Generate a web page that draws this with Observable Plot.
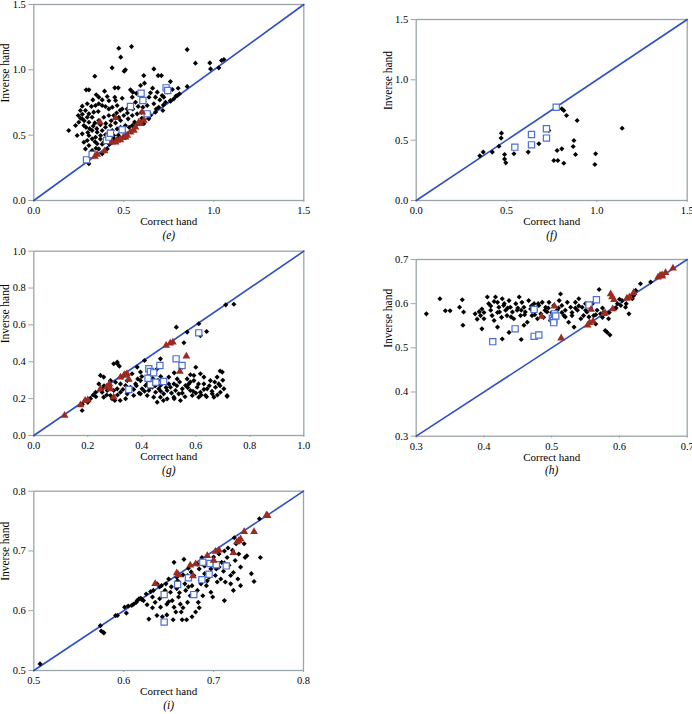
<!DOCTYPE html>
<html><head><meta charset="utf-8">
<script src="https://cdn.jsdelivr.net/npm/d3@7"></script>
<script src="https://cdn.jsdelivr.net/npm/@observablehq/plot@0.6"></script>
<style>
html,body{margin:0;padding:0;overflow:hidden;background:#fff}
#wrap{position:relative;width:692px;height:714px}
#wrap svg{position:absolute;left:0;top:0;max-width:none}
#wrap svg, #wrap svg text{font-family:"Liberation Serif","Times New Roman",serif !important}
</style></head><body><div id="wrap"></div>
<script>
// ---------- panel (e) ----------
const eTicks=[0,0.5,1.0,1.5];
const eDiamonds=[[0.472,1.165],[0.543,1.178],[0.483,1.097],[0.852,1.155],[0.898,1.051],[0.978,1.053],[1.043,1.071],[1.056,1.079],[1.028,1.015],[0.982,1.007],[0.435,1.015],[0.509,1.0],[0.502,0.99],[0.339,0.951],[0.667,1.007],[0.611,0.956],[0.691,0.956],[0.709,0.956],[0.759,0.910],[0.802,0.859],[0.852,0.872],[0.615,0.898],[0.593,0.880],[0.45,0.862],[0.469,0.862],[0.306,0.847],[0.291,0.847],[0.393,0.837],[0.347,0.809],[0.361,0.791],[0.328,0.770],[0.408,0.796],[0.417,0.763],[0.491,0.783],[0.537,0.847],[0.55,0.829],[0.547,0.791],[0.565,0.752],[0.648,0.824],[0.676,0.791],[0.713,0.803],[0.686,0.829],[0.722,0.791],[0.759,0.765],[0.778,0.778],[0.797,0.803],[0.809,0.816],[0.667,0.740],[0.694,0.714],[0.717,0.689],[0.732,0.752],[0.648,0.650],[0.676,0.676],[0.63,0.727],[0.606,0.714],[0.598,0.676],[0.574,0.663],[0.547,0.650],[0.519,0.701],[0.491,0.701],[0.463,0.727],[0.454,0.765],[0.436,0.714],[0.417,0.701],[0.398,0.719],[0.38,0.727],[0.361,0.740],[0.343,0.727],[0.297,0.740],[0.269,0.722],[0.259,0.689],[0.287,0.689],[0.306,0.663],[0.333,0.676],[0.358,0.681],[0.324,0.637],[0.297,0.637],[0.269,0.625],[0.25,0.599],[0.247,0.650],[0.278,0.574],[0.306,0.599],[0.339,0.594],[0.361,0.612],[0.389,0.637],[0.417,0.650],[0.444,0.650],[0.472,0.637],[0.5,0.650],[0.524,0.625],[0.482,0.612],[0.454,0.594],[0.426,0.574],[0.398,0.561],[0.38,0.536],[0.352,0.523],[0.324,0.536],[0.306,0.497],[0.297,0.459],[0.324,0.472],[0.343,0.484],[0.371,0.497],[0.398,0.503],[0.417,0.523],[0.436,0.536],[0.463,0.548],[0.482,0.561],[0.509,0.574],[0.444,0.497],[0.463,0.472],[0.426,0.459],[0.389,0.446],[0.352,0.434],[0.306,0.421],[0.287,0.395],[0.324,0.383],[0.361,0.395],[0.194,0.536],[0.232,0.574],[0.241,0.497],[0.269,0.510],[0.278,0.446],[0.408,0.395],[0.38,0.357],[0.306,0.281],[0.547,0.574],[0.565,0.587],[0.583,0.594],[0.611,0.587],[0.639,0.625],[0.79,0.80],[0.76,0.76],[0.72,0.73],[0.68,0.70],[0.64,0.67],[0.60,0.63],[0.56,0.60],[0.53,0.56],[0.50,0.53],[0.47,0.50],[0.44,0.48],[0.41,0.45],[0.38,0.43],[0.345,0.40],[0.32,0.36],[0.27,0.66],[0.26,0.63],[0.29,0.56],[0.31,0.55],[0.33,0.57],[0.35,0.55],[0.37,0.58],[0.40,0.59],[0.43,0.61],[0.46,0.67],[0.48,0.69],[0.52,0.67],[0.55,0.70],[0.58,0.72],[0.61,0.77],[0.64,0.79],[0.70,0.77],[0.74,0.83],[0.77,0.85],[0.66,0.86],[0.57,0.82],[0.45,0.79],[0.38,0.77],[0.32,0.72],[0.28,0.61],[0.30,0.52],[0.34,0.45],[0.37,0.47],[0.42,0.43],[0.45,0.46]];
const eSquares=[[0.293,0.311],[0.324,0.352],[0.404,0.459],[0.417,0.485],[0.426,0.515],[0.491,0.541],[0.537,0.719],[0.596,0.821],[0.606,0.765],[0.630,0.663],[0.735,0.862],[0.744,0.842]];
const eTriangles=[[0.367,0.599],[0.454,0.633],[0.352,0.352],[0.393,0.378],[0.435,0.446],[0.463,0.459],[0.496,0.480],[0.519,0.497],[0.537,0.523],[0.565,0.561],[0.583,0.599],[0.602,0.676],[0.611,0.612],[0.593,0.587],[0.556,0.536],[0.509,0.485],[0.481,0.464],[0.454,0.446],[0.339,0.337]];

// ---------- panel (f) ----------
const fTicks=[0,0.5,1.0,1.5];
const fDiamonds=[[0.352,0.370],[0.371,0.401],[0.421,0.401],[0.458,0.450],[0.472,0.558],[0.470,0.517],[0.489,0.381],[0.489,0.343],[0.496,0.312],[0.541,0.387],[0.620,0.401],[0.679,0.470],[0.734,0.580],[0.762,0.331],[0.784,0.331],[0.780,0.414],[0.806,0.428],[0.817,0.309],[0.806,0.760],[0.817,0.746],[0.832,0.704],[0.891,0.663],[0.873,0.497],[0.869,0.448],[0.882,0.381],[0.993,0.387],[0.989,0.298],[1.140,0.599]];
const fSquares=[[0.546,0.442],[0.638,0.547],[0.638,0.461],[0.721,0.594],[0.721,0.517],[0.775,0.773]];
const fTriangles=[];

// ---------- panel (g) ----------
const gTicks=[0,0.2,0.4,0.6,0.8,1.0];
const gDiamonds=[[0.179,0.136],[0.741,0.712],[0.711,0.709],[0.611,0.606],[0.568,0.561],[0.528,0.588],[0.617,0.542],[0.640,0.564],[0.556,0.503],[0.410,0.407],[0.716,0.212],[0.469,0.416],[0.309,0.389],[0.317,0.376],[0.247,0.326],[0.259,0.317],[0.284,0.298],[0.303,0.289],[0.321,0.280],[0.340,0.271],[0.358,0.262],[0.377,0.280],[0.395,0.298],[0.385,0.307],[0.401,0.253],[0.414,0.271],[0.426,0.244],[0.439,0.262],[0.451,0.235],[0.463,0.253],[0.469,0.271],[0.481,0.226],[0.494,0.244],[0.506,0.262],[0.519,0.280],[0.525,0.244],[0.537,0.226],[0.55,0.253],[0.562,0.271],[0.574,0.280],[0.580,0.244],[0.593,0.298],[0.605,0.262],[0.617,0.235],[0.630,0.280],[0.642,0.253],[0.654,0.298],[0.661,0.226],[0.673,0.262],[0.685,0.280],[0.691,0.235],[0.704,0.253],[0.698,0.344],[0.679,0.317],[0.630,0.317],[0.617,0.335],[0.593,0.326],[0.568,0.307],[0.531,0.307],[0.5,0.317],[0.481,0.298],[0.469,0.208],[0.494,0.199],[0.519,0.208],[0.543,0.190],[0.444,0.208],[0.420,0.217],[0.395,0.226],[0.370,0.217],[0.346,0.226],[0.321,0.235],[0.296,0.244],[0.272,0.244],[0.253,0.253],[0.241,0.280],[0.229,0.235],[0.259,0.208],[0.284,0.217],[0.309,0.253],[0.457,0.181],[0.587,0.217],[0.611,0.208],[0.636,0.217],[0.667,0.208],[0.716,0.217],[0.395,0.344],[0.383,0.371],[0.364,0.335],[0.346,0.298],[0.327,0.317],[0.296,0.389],[0.309,0.398],[0.253,0.235],[0.439,0.335],[0.457,0.362],[0.476,0.289],[0.420,0.307],[0.35,0.24],[0.37,0.25],[0.39,0.23],[0.41,0.24],[0.43,0.26],[0.45,0.27],[0.47,0.24],[0.49,0.26],[0.51,0.23],[0.53,0.27],[0.55,0.23],[0.57,0.26],[0.59,0.24],[0.61,0.28],[0.63,0.25],[0.65,0.27],[0.67,0.29],[0.69,0.27],[0.62,0.22],[0.58,0.29],[0.54,0.29],[0.50,0.28],[0.46,0.30],[0.42,0.28],[0.38,0.27],[0.33,0.25],[0.31,0.22],[0.29,0.20],[0.27,0.22],[0.23,0.21],[0.21,0.20],[0.19,0.19],[0.18,0.17],[0.20,0.18],[0.22,0.22],[0.26,0.27],[0.28,0.27],[0.30,0.19],[0.32,0.19],[0.34,0.20],[0.48,0.19],[0.52,0.20],[0.56,0.21],[0.60,0.23],[0.64,0.21],[0.66,0.24],[0.68,0.22],[0.70,0.30],[0.69,0.35],[0.60,0.37],[0.55,0.37],[0.58,0.33],[0.52,0.34],[0.47,0.32],[0.44,0.31],[0.40,0.32]];
const gSquares=[[0.352,0.250],[0.426,0.362],[0.432,0.347],[0.423,0.311],[0.444,0.340],[0.467,0.380],[0.432,0.275],[0.452,0.289],[0.481,0.293],[0.527,0.416],[0.549,0.380],[0.611,0.557]];
const gTriangles=[[0.114,0.108],[0.173,0.166],[0.2,0.193],[0.19,0.19],[0.247,0.253],[0.269,0.262],[0.278,0.271],[0.28,0.28],[0.284,0.253],[0.296,0.208],[0.321,0.316],[0.335,0.33],[0.340,0.325],[0.345,0.335],[0.352,0.304],[0.490,0.488],[0.505,0.5],[0.515,0.506],[0.565,0.430],[0.541,0.347]];

// ---------- panel (h) ----------
const hTicks=[0.3,0.4,0.5,0.6,0.7];
const hDiamonds=[[0.315,0.577],[0.335,0.611],[0.343,0.584],[0.350,0.584],[0.364,0.592],[0.368,0.609],[0.370,0.581],[0.369,0.551],[0.387,0.577],[0.393,0.582],[0.395,0.573],[0.397,0.588],[0.400,0.566],[0.397,0.543],[0.405,0.615],[0.407,0.600],[0.410,0.585],[0.412,0.573],[0.415,0.562],[0.417,0.615],[0.420,0.603],[0.422,0.592],[0.423,0.581],[0.426,0.569],[0.427,0.611],[0.429,0.596],[0.432,0.585],[0.434,0.573],[0.437,0.607],[0.439,0.592],[0.442,0.581],[0.444,0.566],[0.447,0.600],[0.449,0.585],[0.452,0.615],[0.454,0.573],[0.456,0.603],[0.459,0.592],[0.461,0.581],[0.464,0.558],[0.466,0.607],[0.469,0.588],[0.471,0.573],[0.474,0.600],[0.476,0.585],[0.479,0.566],[0.481,0.596],[0.484,0.577],[0.486,0.603],[0.488,0.569],[0.491,0.592],[0.493,0.581],[0.496,0.603],[0.498,0.562],[0.501,0.573],[0.503,0.596],[0.508,0.585],[0.511,0.607],[0.513,0.622],[0.515,0.596],[0.518,0.573],[0.520,0.585],[0.523,0.603],[0.525,0.558],[0.528,0.592],[0.530,0.573],[0.533,0.547],[0.535,0.603],[0.538,0.585],[0.540,0.611],[0.543,0.566],[0.545,0.592],[0.547,0.573],[0.550,0.600],[0.552,0.581],[0.557,0.592],[0.562,0.573],[0.565,0.554],[0.570,0.632],[0.567,0.585],[0.572,0.577],[0.575,0.569],[0.577,0.581],[0.579,0.539],[0.582,0.535],[0.586,0.529],[0.584,0.566],[0.597,0.600],[0.604,0.607],[0.614,0.577],[0.609,0.592],[0.621,0.618],[0.624,0.630],[0.631,0.645],[0.646,0.649],[0.619,0.611],[0.602,0.596],[0.592,0.588],[0.427,0.520],[0.455,0.519],[0.479,0.528],[0.481,0.532],[0.420,0.547],[0.459,0.551],[0.437,0.535],[0.41,0.595],[0.43,0.60],[0.45,0.59],[0.47,0.595],[0.49,0.585],[0.51,0.59],[0.53,0.58],[0.55,0.585],[0.56,0.60],[0.54,0.595],[0.52,0.57],[0.50,0.58],[0.48,0.60],[0.46,0.575],[0.44,0.57],[0.42,0.58],[0.40,0.58],[0.39,0.565],[0.415,0.605],[0.435,0.59],[0.455,0.585],[0.475,0.575],[0.495,0.59],[0.515,0.58],[0.535,0.59],[0.555,0.57],[0.565,0.575],[0.575,0.59],[0.585,0.58],[0.595,0.59],[0.61,0.60],[0.6,0.61]];
const hSquares=[[0.413,0.514],[0.446,0.543],[0.474,0.587],[0.474,0.526],[0.481,0.529],[0.501,0.567],[0.503,0.562],[0.503,0.557],[0.504,0.577],[0.506,0.572],[0.555,0.597],[0.566,0.609]];
const hTriangles=[[0.485,0.571],[0.504,0.594],[0.514,0.522],[0.556,0.557],[0.561,0.560],[0.558,0.587],[0.553,0.551],[0.587,0.622],[0.589,0.615],[0.592,0.609],[0.590,0.588],[0.577,0.577],[0.579,0.579],[0.611,0.612],[0.615,0.615],[0.621,0.625],[0.657,0.660],[0.660,0.664],[0.663,0.662],[0.668,0.670],[0.679,0.680],[0.663,0.665]];

// ---------- panel (i) ----------
const iTicks=[0.5,0.6,0.7,0.8];
const iDiamonds=[[0.507,0.511],[0.574,0.575],[0.575,0.566],[0.577,0.564],[0.578,0.563],[0.591,0.592],[0.593,0.592],[0.601,0.606],[0.603,0.596],[0.609,0.609],[0.611,0.611],[0.614,0.614],[0.615,0.617],[0.619,0.621],[0.620,0.619],[0.622,0.617],[0.628,0.586],[0.632,0.623],[0.633,0.634],[0.635,0.614],[0.637,0.592],[0.641,0.606],[0.642,0.642],[0.645,0.625],[0.646,0.634],[0.648,0.593],[0.648,0.611],[0.650,0.653],[0.652,0.631],[0.654,0.617],[0.656,0.606],[0.656,0.681],[0.658,0.598],[0.659,0.637],[0.659,0.656],[0.661,0.623],[0.663,0.611],[0.664,0.598],[0.665,0.585],[0.667,0.686],[0.668,0.645],[0.669,0.634],[0.670,0.585],[0.671,0.659],[0.671,0.614],[0.672,0.671],[0.674,0.625],[0.676,0.642],[0.678,0.659],[0.680,0.598],[0.682,0.634],[0.682,0.678],[0.683,0.614],[0.685,0.651],[0.687,0.689],[0.688,0.625],[0.690,0.662],[0.692,0.642],[0.694,0.678],[0.695,0.656],[0.697,0.631],[0.697,0.670],[0.699,0.623],[0.700,0.684],[0.702,0.659],[0.704,0.648],[0.706,0.673],[0.708,0.653],[0.709,0.681],[0.711,0.666],[0.712,0.617],[0.713,0.648],[0.715,0.689],[0.717,0.676],[0.719,0.659],[0.721,0.701],[0.722,0.664],[0.723,0.722],[0.724,0.684],[0.725,0.712],[0.727,0.653],[0.728,0.695],[0.730,0.642],[0.734,0.712],[0.735,0.689],[0.737,0.692],[0.742,0.662],[0.730,0.673],[0.745,0.649],[0.751,0.754],[0.752,0.689],[0.719,0.645],[0.722,0.634],[0.605,0.608],[0.617,0.620],[0.625,0.628],[0.630,0.632],[0.637,0.645],[0.640,0.640],[0.647,0.645],[0.653,0.640],[0.660,0.650],[0.666,0.660],[0.675,0.665],[0.684,0.670],[0.690,0.675],[0.700,0.690],[0.706,0.695],[0.712,0.700],[0.716,0.705],[0.626,0.610],[0.632,0.605],[0.640,0.620],[0.650,0.615],[0.662,0.630],[0.672,0.640],[0.686,0.645],[0.693,0.650],[0.703,0.670],[0.712,0.680],[0.676,0.590],[0.684,0.605],[0.655,0.585],[0.643,0.590],[0.666,0.605]];
const iSquares=[[0.645,0.581],[0.645,0.627],[0.660,0.644],[0.672,0.655],[0.678,0.627],[0.687,0.652],[0.695,0.661],[0.696,0.679],[0.703,0.677],[0.714,0.675],[0.688,0.681]];
const iTriangles=[[0.635,0.645],[0.659,0.663],[0.661,0.660],[0.677,0.658],[0.674,0.676],[0.680,0.678],[0.693,0.692],[0.702,0.699],[0.706,0.701],[0.700,0.684],[0.722,0.697],[0.726,0.715],[0.728,0.717],[0.730,0.720],[0.734,0.732],[0.745,0.732],[0.759,0.760],[0.760,0.759]];

// ---------- layout ----------
const W=692,H=714;
const panels=[
  {tag:"(e)",ticks:eTicks,dia:eDiamonds,sq:eSquares,tri:eTriangles,L:33.3,R:303.3,T:4,B:200},
  {tag:"(f)",ticks:fTicks,dia:fDiamonds,sq:fSquares,tri:fTriangles,L:415.7,R:686.7,T:19,B:200},
  {tag:"(g)",ticks:gTicks,dia:gDiamonds,sq:gSquares,tri:gTriangles,L:33.3,R:303.3,T:250.7,B:435},
  {tag:"(h)",ticks:hTicks,dia:hDiamonds,sq:hSquares,tri:hTriangles,L:415.7,R:686.7,T:259,B:435.7},
  {tag:"(i)",ticks:iTicks,dia:iDiamonds,sq:iSquares,tri:iTriangles,L:33.3,R:303,T:490.7,B:670}
];
const gray="#9aa5a9";
const fmt=d3.format(".1f");
const serif="'Liberation Serif','Times New Roman',serif";
function panel(c){
  const lo=c.ticks[0],hi=c.ticks[c.ticks.length-1];
  const diag=[[lo,lo],[hi,hi]];
  const X=d=>d[0],Y=d=>d[1];
  return Plot.plot({
    width:W,height:H,
    marginLeft:c.L,marginRight:W-c.R,marginTop:c.T,marginBottom:H-c.B,
    style:{fontFamily:serif,fontSize:"11px",background:"transparent",overflow:"visible",color:"#000"},
    x:{domain:[lo,hi]},
    y:{domain:[lo,hi]},
    marks:[
      Plot.frame({stroke:gray,strokeWidth:1.3}),
      Plot.axisX({ticks:c.ticks,tickFormat:fmt,tickSize:2,tickPadding:4,stroke:gray,fill:"#000",fontSize:10.5,label:null}),
      Plot.axisY({ticks:c.ticks,tickFormat:fmt,tickSize:5,tickPadding:3,stroke:gray,fill:"#000",fontSize:10.5,label:null}),
      Plot.line(diag,{x:X,y:Y,stroke:"#2d50c8",strokeWidth:1.6}),
      Plot.dot(c.dia,{x:X,y:Y,symbol:"diamond2",fill:"#000",stroke:null,r:2.3}),
      Plot.dot(c.sq,{x:X,y:Y,symbol:"square",fill:"#fff",stroke:"#4d6fd6",strokeWidth:1.2,r:3.5}),
      Plot.dot(c.tri,{x:X,y:Y,symbol:"triangle",fill:"#9c2b20",stroke:null,r:2.9}),
      Plot.text(["Correct hand"],{text:d=>d,frameAnchor:"bottom",dy:24.5,fontSize:11,fill:"#000"}),
      Plot.text([c.tag],{text:d=>d,frameAnchor:"bottom",dy:38,fontSize:11.5,fontStyle:"italic",fill:"#000"}),
      Plot.text(["Inverse hand"],{text:d=>d,frameAnchor:"left",dx:-28,rotate:-90,fontSize:11.5,fill:"#000"})
    ]
  });
}
const wrap=document.getElementById("wrap");
for(const c of panels) wrap.appendChild(panel(c));
</script></body></html>
